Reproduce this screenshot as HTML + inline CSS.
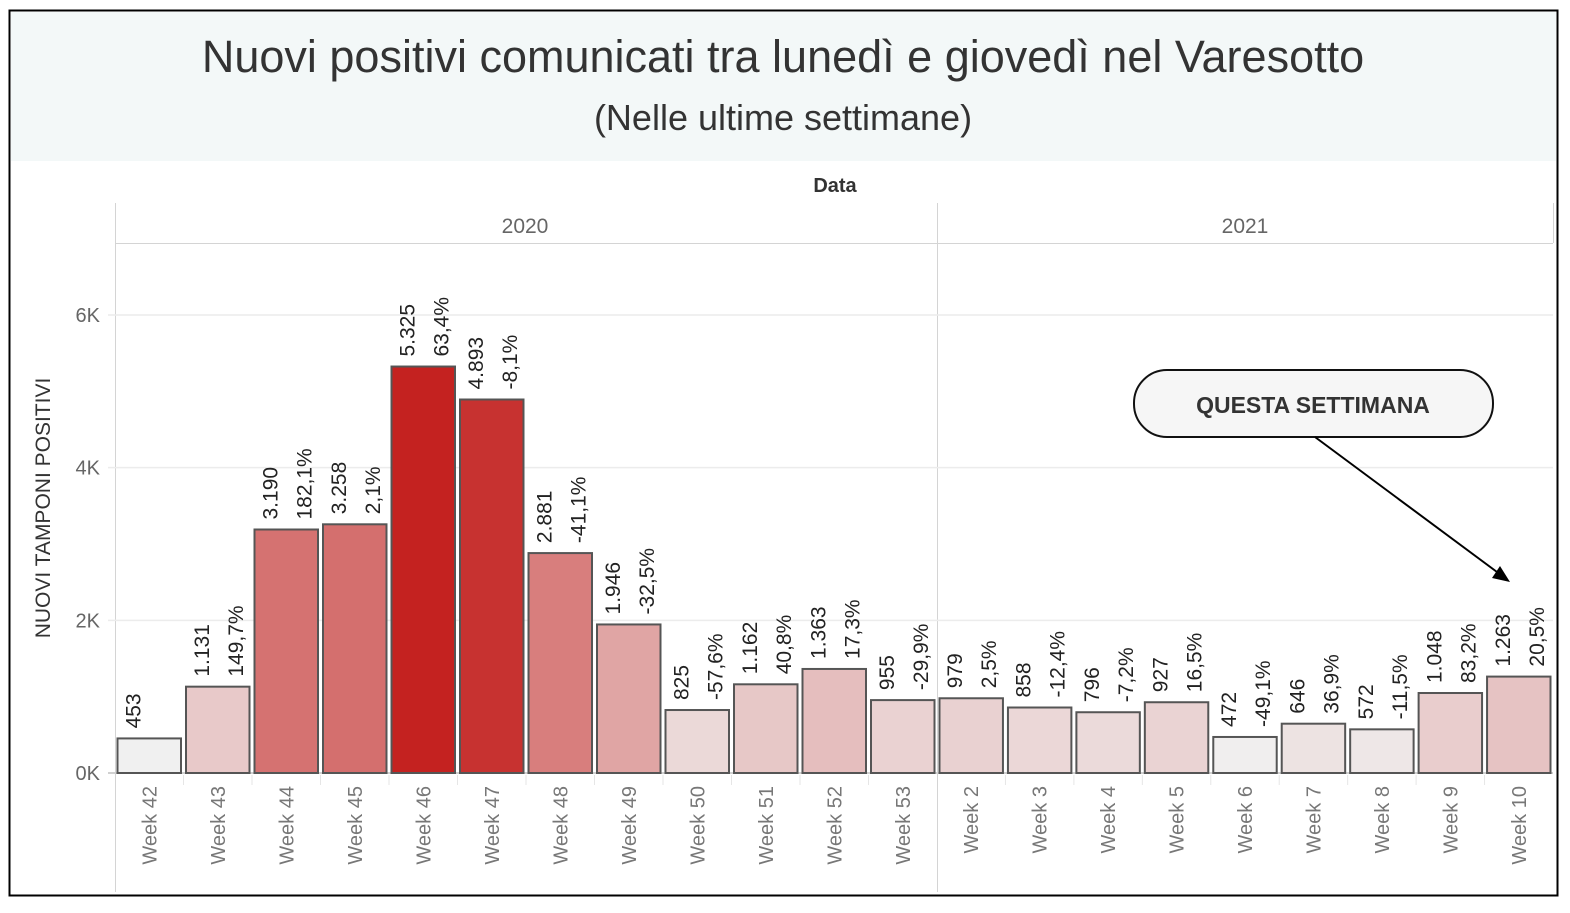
<!DOCTYPE html>
<html><head><meta charset="utf-8"><style>
body{margin:0;background:#fff;}
svg text{font-family:"Liberation Sans",sans-serif;}
</style></head><body>
<svg width="1570" height="908" xmlns="http://www.w3.org/2000/svg" id="chart">
<rect x="9.5" y="10.5" width="1548" height="885" fill="#fff" stroke="#000" stroke-width="2"/>
<rect x="11" y="12" width="1545" height="149" fill="#f3f8f8"/>
<text x="783" y="72" text-anchor="middle" font-size="45" fill="#333">Nuovi positivi comunicati tra lunedì e giovedì nel Varesotto</text>
<text x="783" y="130" text-anchor="middle" font-size="36" fill="#333">(Nelle ultime settimane)</text>
<text x="835" y="192" text-anchor="middle" font-size="20" font-weight="bold" fill="#333">Data</text>
<text x="525" y="233" text-anchor="middle" font-size="21" fill="#666">2020</text>
<text x="1245" y="233" text-anchor="middle" font-size="21" fill="#666">2021</text>
<line x1="115" y1="243.5" x2="1553" y2="243.5" stroke="#d4d4d4"/>
<line x1="115.5" y1="203" x2="115.5" y2="892" stroke="#d4d4d4"/>
<line x1="937.5" y1="203" x2="937.5" y2="892" stroke="#d4d4d4"/>
<line x1="1553.5" y1="203" x2="1553.5" y2="243" stroke="#d4d4d4"/>
<text transform="translate(50,508) rotate(-90)" text-anchor="middle" font-size="21" fill="#333">NUOVI TAMPONI POSITIVI</text>
<g id="grid"></g>
<g id="bars"></g>
<g id="labels"></g>
<g id="xlabels"></g>
<rect x="1134" y="370" width="359" height="67" rx="33" fill="#f6f6f6" stroke="#111" stroke-width="2"/>
<text x="1313" y="413" text-anchor="middle" font-size="23" font-weight="bold" fill="#333">QUESTA SETTIMANA</text>
<line x1="1315" y1="437" x2="1497" y2="572" stroke="#000" stroke-width="2"/>
<polygon points="1510,582 1492,578 1500,566" fill="#000"/>
</svg>
<script>
const weeks2020=["Week 42","Week 43","Week 44","Week 45","Week 46","Week 47","Week 48","Week 49","Week 50","Week 51","Week 52","Week 53"];
const weeks2021=["Week 2","Week 3","Week 4","Week 5","Week 6","Week 7","Week 8","Week 9","Week 10"];
const values=[453,1131,3190,3258,5325,4893,2881,1946,825,1162,1363,955,979,858,796,927,472,646,572,1048,1263];
const valueLabels=["453","1.131","3.190","3.258","5.325","4.893","2.881","1.946","825","1.162","1.363","955","979","858","796","927","472","646","572","1.048","1.263"];
const pctLabels=["","149,7%","182,1%","2,1%","63,4%","-8,1%","-41,1%","-32,5%","-57,6%","40,8%","17,3%","-29,9%","2,5%","-12,4%","-7,2%","16,5%","-49,1%","36,9%","-11,5%","83,2%","20,5%"];
const yTicks=[0,2000,4000,6000];
const yTickLabels=["0K","2K","4K","6K"];
const NS="http://www.w3.org/2000/svg";
const y0=773,pxPer=458/6000;
function y(v){return y0-v*pxPer;}
const step=68.5;
function xLeft(i){return i<12?115+i*step:937+(i-12)*(616/9);}
function bw(i){return i<12?step:616/9;}
const vmin=450,vmax=5325;
function col(v){let t=Math.max(0,Math.min(1,(v-vmin)/(vmax-vmin)));t=Math.pow(t,0.85);
const a=[240,240,240],b=[196,34,32];return `rgb(${a.map((c,k)=>Math.round(c+(b[k]-c)*t)).join(',')})`;}
function mk(tag,attrs,parent,txt){const e=document.createElementNS(NS,tag);for(const k in attrs)e.setAttribute(k,attrs[k]);if(txt!=null)e.textContent=txt;document.getElementById(parent).appendChild(e);return e;}
yTicks.forEach((t,i)=>{
 const l=mk('line',{x1:108,x2:1553,y1:y(t),y2:y(t),stroke:t===0?'#d0d0d0':'#ececec','stroke-width':t===0?2:1.5},'grid');
 
 
 const tx=mk('text',{x:100,y:y(t)+7,'text-anchor':'end','font-size':20,fill:'#666'},'grid',yTickLabels[i]);
 
 
});
const weeks=weeks2020.concat(weeks2021);
values.forEach((v,i)=>{
 const x=xLeft(i)+2.5,w=bw(i)-5;
 const r=mk('rect',{x:x,y:y(v),width:w,height:y0-y(v),fill:col(v),stroke:'#555','stroke-width':2},'bars');
 
 
 const cx=xLeft(i)+bw(i)/2;
 const ty=y(v)-10;
 const t1=mk('text',{transform:`translate(${cx-9},${ty}) rotate(-90)`,'font-size':21,fill:'#222'},'labels',valueLabels[i]);
 
 
 if(pctLabels[i]){const t2=mk('text',{transform:`translate(${cx+25},${ty}) rotate(-90)`,'font-size':21,fill:'#222'},'labels',pctLabels[i]);
 
 }
 const t3=mk('text',{transform:`translate(${cx+7},786) rotate(-90)`,'text-anchor':'end','font-size':20,fill:'#777'},'xlabels',weeks[i]);
 
 
 if(i>0&&i!==12){const s=mk('line',{x1:xLeft(i),x2:xLeft(i),y1:775,y2:785,stroke:'#e6e6e6'},'xlabels');
 
 }
});
</script>
</body></html>
